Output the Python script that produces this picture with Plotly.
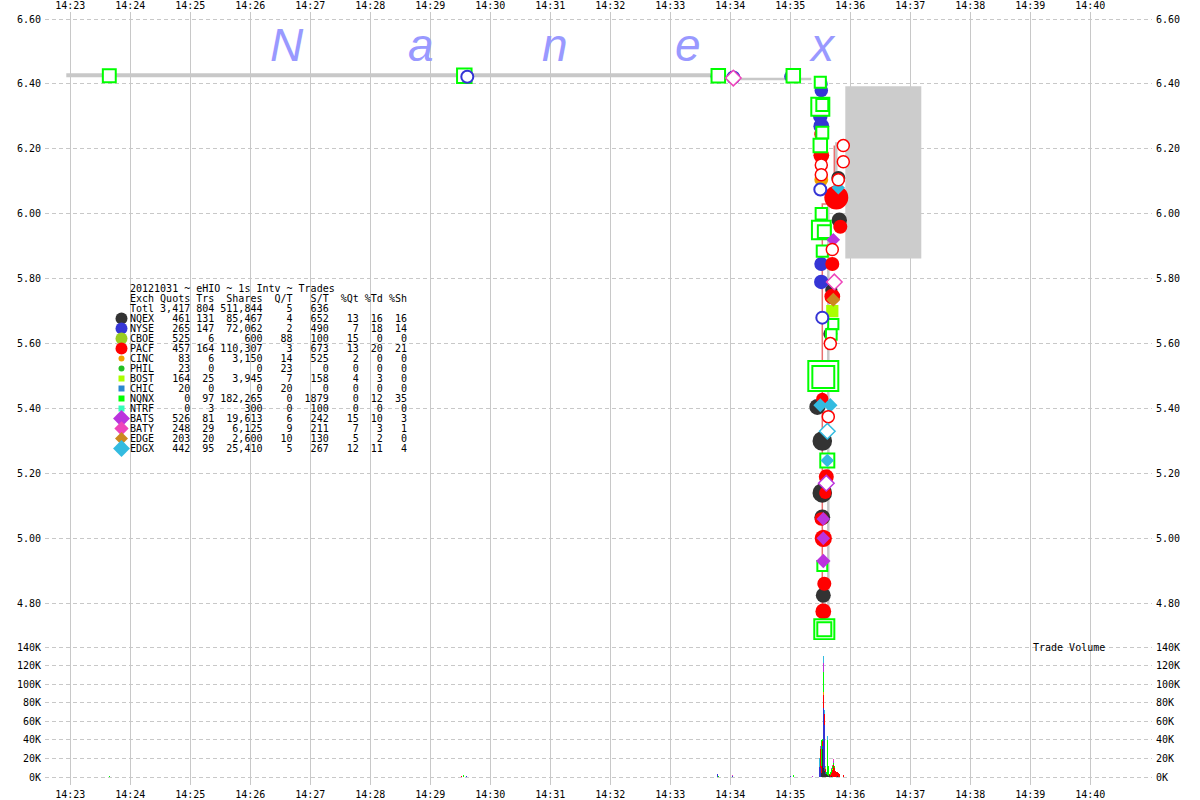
import math
import plotly.graph_objects as go

DAY = "2012-10-31 "

# ---------------- exchanges / table ----------------
exchanges = ["NQEX", "NYSE", "CBOE", "PACF", "CINC", "PHIL", "BOST", "CHIC",
             "NQNX", "NTRF", "BATS", "BATY", "EDGE", "EDGX"]
ex_colors = ["#333333", "#3535d5", "#99cc22", "#ff0000", "#f0a000", "#22c022",
             "#aaff00", "#2a88d0", "#00ff00", "#33ffbb", "#bb33dd", "#ee44bb",
             "#cc8820", "#33bbe0"]
ex_symbols = ["circle"] * 6 + ["square"] * 4 + ["diamond"] * 4
legend_sizes = [12, 12, 12, 12, 6, 6, 6, 6, 6, 6, 13, 11, 10, 13]

table_title = "20121031 ~ eHIO ~ 1s Intv ~ Trades"
tbl_quots = [461, 265, 525, 457, 83, 23, 164, 20, 0, 0, 526, 248, 203, 442]
tbl_trs = [131, 147, 6, 164, 6, 0, 25, 0, 97, 3, 81, 29, 20, 95]
tbl_shares = [85467, 72062, 600, 110307, 3150, 0, 3945, 0, 182265, 300, 19613, 6125, 2600, 25410]
tbl_qt = [4, 2, 88, 3, 14, 23, 7, 20, 0, 0, 6, 9, 10, 5]
tbl_st = [652, 490, 100, 673, 525, 0, 158, 0, 1879, 100, 242, 211, 130, 267]
tbl_pqt = [13, 7, 15, 13, 2, 0, 4, 0, 0, 0, 15, 7, 5, 12]
tbl_ptd = [16, 18, 0, 20, 0, 0, 3, 0, 12, 0, 10, 3, 2, 11]
tbl_psh = [16, 14, 0, 21, 0, 0, 0, 0, 35, 0, 3, 1, 0, 4]
tot_quots, tot_trs, tot_shares, tot_qt, tot_st = 3417, 804, 511844, 5, 636

# ---------------- axes ----------------
minute_ticks = ["14:%02d" % m for m in range(23, 41)]
price_ticks = [4.80, 5.00, 5.20, 5.40, 5.60, 5.80, 6.00, 6.20, 6.40, 6.60]
vol_ticks = [0, 20000, 40000, 60000, 80000, 100000, 120000, 140000]
vol_tick_text = ["0K", "20K", "40K", "60K", "80K", "100K", "120K", "140K"]

# ---------------- quote lines ----------------
gray1_time = ["14:22:56", "14:33:54"]
gray1_price = [6.427, 6.427]
gray2_time = ["14:33:55", "14:35:21", None, "14:35:46", "14:35:46", "14:35:38", "14:35:38"]
gray2_price = [6.415, 6.415, None, 6.22, 6.03, 6.03, 4.72]
red_time = ["14:35:44", "14:35:44", "14:35:32", "14:35:32"]
red_price = [6.21, 6.03, 6.03, 4.72]

# shaded box
box_time = ["14:35:55", "14:37:11"]
box_price = [5.862, 6.393]

# ---------------- trades (time, price, shares) ----------------
nqex_t = ["14:35:31", "14:35:48", "14:35:49", "14:35:41", "14:35:40", "14:35:27", "14:35:32", "14:35:32", "14:35:32", "14:35:33"]
nqex_p = [6.200, 6.110, 5.980, 5.765, 5.630, 5.405, 5.300, 5.140, 5.065, 4.825]
nqex_s = [1500, 3000, 4500, 1500, 3000, 5300, 11000, 11000, 5000, 4000]

nyse_t = ["14:33:47", "14:35:00", "14:35:31", "14:35:31", "14:35:30", "14:35:31", "14:35:31", "14:35:31"]
nyse_p = [6.423, 6.423, 6.400, 6.380, 6.300, 6.270, 5.845, 5.790]
nyse_s = [2500, 1500, 2000, 2500, 3500, 5000, 3000, 3500]

pacf_t = ["14:35:31", "14:35:31", "14:35:46", "14:35:50", "14:35:42", "14:35:42", "14:35:32", "14:35:36", "14:35:35", "14:35:31", "14:35:33", "14:35:34", "14:35:33"]
pacf_p = [6.245, 6.180, 6.050, 5.960, 5.845, 5.745, 5.430, 5.190, 5.140, 5.060, 5.000, 4.860, 4.775]
pacf_s = [3000, 5000, 21000, 3000, 3000, 5000, 1500, 4000, 1500, 2500, 7000, 3000, 5000]

cinc_t = ["14:35:31"]
cinc_p = [6.105]
cinc_s = [2800]

bost_t = ["14:35:42"]
bost_p = [5.700]
bost_s = [1500]

nqnx_t = ["14:23:39", "14:29:34", "14:33:48", "14:35:03", "14:35:30", "14:35:30", "14:35:32", "14:35:32", "14:35:30", "14:35:31", "14:35:31", "14:35:34", "14:35:32", "14:35:43", "14:35:41", "14:35:33", "14:35:33", "14:35:37", "14:35:32", "14:35:34", "14:35:34"]
nqnx_p = [6.425, 6.425, 6.425, 6.425, 6.405, 6.330, 6.335, 6.250, 6.210, 6.000, 5.950, 5.945, 5.885, 5.660, 5.628, 5.500, 5.497, 5.240, 4.915, 4.720, 4.720]
nqnx_s = [2000, 3500, 2500, 2500, 800, 8300, 1300, 1300, 2500, 900, 9500, 2000, 800, 400, 600, 40000, 16000, 3000, 300, 12000, 3000]

bats_t = ["14:35:43", "14:35:33", "14:35:33", "14:35:33"]
bats_p = [5.920, 5.060, 5.000, 4.930]
bats_s = [500, 500, 500, 800]

edge_t = ["14:35:43"]
edge_p = [5.735]
edge_s = [600]

edgx_t = ["14:35:48", "14:35:30", "14:35:40", "14:35:37"]
edgx_p = [6.080, 5.410, 5.410, 5.240]
edgx_s = [400, 600, 800, 500]

# ---------------- quotes (time, price) ----------------
pacf_q_t = ["14:35:31", "14:35:31", "14:35:53", "14:35:53", "14:35:48", "14:35:42", "14:35:40", "14:35:38"]
pacf_q_p = [6.150, 6.120, 6.210, 6.160, 6.105, 5.890, 5.600, 5.375]
nyse_q_t = ["14:29:37", "14:34:03", "14:35:30", "14:35:32"]
nyse_q_p = [6.422, 6.420, 6.075, 5.680]
baty_q_t = ["14:34:03", "14:35:44"]
baty_q_p = [6.418, 5.790]
edgx_q_t = ["14:35:37"]
edgx_q_p = [5.330]
bats_q_t = ["14:35:36"]
bats_q_p = [5.170]

# ---------------- trade volume per second ----------------
vol_times = ["14:23:39", "14:29:31", "14:29:33", "14:29:36", "14:33:47", "14:33:48", "14:34:02",
             "14:35:00", "14:35:03", "14:35:22", "14:35:29", "14:35:30", "14:35:31", "14:35:32",
             "14:35:33", "14:35:34", "14:35:35", "14:35:36", "14:35:37", "14:35:38", "14:35:39",
             "14:35:40", "14:35:41", "14:35:42", "14:35:43", "14:35:44", "14:35:45", "14:35:46",
             "14:35:47", "14:35:48", "14:35:49", "14:35:53"]
vol_nqex = [0, 0, 0, 0, 0, 0, 0, 0, 0, 0, 0, 0, 4000, 30000, 10000, 6000, 3000, 3000, 2000, 1500, 2000, 0, 1000, 0, 0, 0, 0, 0, 1000, 0, 0, 0]
vol_nyse = [0, 0, 0, 1200, 3000, 0, 800, 700, 0, 0, 11000, 10000, 0, 4000, 64000, 50000, 2000, 0, 0, 0, 0, 0, 0, 0, 0, 0, 0, 0, 0, 0, 0, 0]
vol_cboe = [0, 0, 0, 0, 0, 0, 0, 0, 0, 0, 0, 0, 0, 0, 0, 0, 0, 0, 0, 0, 0, 0, 600, 0, 0, 0, 0, 0, 0, 0, 0, 0]
vol_pacf = [0, 600, 0, 0, 0, 0, 0, 0, 0, 0, 0, 20000, 8000, 5000, 14500, 12000, 4000, 0, 0, 0, 1500, 2000, 3000, 8000, 13000, 10000, 6500, 5000, 4000, 4500, 3000, 2500]
vol_cinc = [0, 0, 0, 0, 0, 0, 0, 0, 0, 0, 0, 0, 0, 0, 3150, 0, 0, 0, 0, 0, 0, 0, 0, 0, 0, 0, 0, 0, 0, 0, 0, 0]
vol_phil = [0] * 32
vol_bost = [0, 0, 0, 0, 0, 0, 0, 0, 0, 0, 0, 0, 0, 0, 0, 0, 1500, 0, 0, 0, 0, 0, 0, 1000, 0, 0, 0, 0, 0, 0, 0, 0]
vol_chic = [0] * 32
vol_nqnx = [1000, 0, 2200, 0, 0, 1200, 0, 0, 2000, 0, 0, 0, 28000, 2000, 22000, 0, 0, 2000, 38000, 10000, 0, 3000, 4000, 3000, 2000, 1500, 0, 0, 0, 0, 0, 0]
vol_ntrf = [0, 0, 0, 0, 0, 0, 0, 0, 0, 0, 0, 0, 0, 0, 0, 0, 0, 0, 0, 0, 300, 0, 0, 0, 0, 0, 0, 0, 0, 0, 0, 0]
vol_bats = [0, 0, 0, 0, 0, 0, 0, 0, 0, 700, 0, 3500, 0, 0, 9000, 0, 0, 0, 0, 0, 0, 0, 700, 0, 2000, 0, 0, 0, 0, 0, 0, 0]
vol_baty = [0, 0, 0, 0, 0, 0, 900, 0, 0, 0, 0, 0, 0, 0, 0, 0, 0, 0, 0, 0, 0, 0, 0, 500, 2500, 0, 0, 0, 0, 0, 0, 0]
vol_edge = [0, 0, 0, 0, 0, 0, 0, 0, 0, 0, 0, 0, 0, 0, 0, 0, 0, 0, 0, 0, 0, 0, 0, 0, 0, 800, 0, 0, 0, 0, 0, 0]
vol_edgx = [0, 0, 0, 0, 0, 0, 0, 0, 0, 0, 10000, 0, 0, 0, 8000, 4000, 1500, 0, 4000, 0, 0, 0, 0, 0, 0, 0, 0, 0, 0, 0, 0, 0]

# ======================================================================
def d(ts):
    return [None if t is None else DAY + t for t in ts]


def msize(shares):
    return [8 + 0.11 * math.sqrt(s) for s in shares]


color = dict(zip(exchanges, ex_colors))
symbol = dict(zip(exchanges, ex_symbols))

fig = go.Figure()

# shaded box
bx = d([box_time[0], box_time[1], box_time[1], box_time[0], box_time[0]])
by = [box_price[0], box_price[0], box_price[1], box_price[1], box_price[0]]
fig.add_trace(go.Scatter(x=bx, y=by, fill="toself", fillcolor="#cccccc", mode="lines",
                         line=dict(width=0), hoverinfo="skip", xaxis="x", yaxis="y"))

# quote lines
fig.add_trace(go.Scatter(x=d(gray1_time), y=gray1_price, mode="lines",
                         line=dict(color="#c8c8c8", width=4), xaxis="x", yaxis="y"))
fig.add_trace(go.Scatter(x=d(gray2_time), y=gray2_price, mode="lines",
                         line=dict(color="#c8c8c8", width=2.5), xaxis="x", yaxis="y"))
fig.add_trace(go.Scatter(x=d(red_time), y=red_price, mode="lines",
                         line=dict(color="#e87070", width=1.5), xaxis="x", yaxis="y"))

# trades
trade_sets = [("NQEX", nqex_t, nqex_p, nqex_s), ("NYSE", nyse_t, nyse_p, nyse_s),
              ("PACF", pacf_t, pacf_p, pacf_s), ("CINC", cinc_t, cinc_p, cinc_s),
              ("BOST", bost_t, bost_p, bost_s), ("NQNX", nqnx_t, nqnx_p, nqnx_s),
              ("BATS", bats_t, bats_p, bats_s), ("EDGE", edge_t, edge_p, edge_s),
              ("EDGX", edgx_t, edgx_p, edgx_s)]
for ex, ts, ps, ss in trade_sets:
    if ex == "NQNX":
        mk = dict(symbol="square", size=msize(ss), color="white", opacity=1,
                  line=dict(color=color[ex], width=2))
    else:
        mk = dict(symbol=symbol[ex], size=msize(ss), color=color[ex], opacity=1,
                  line=dict(width=0))
    fig.add_trace(go.Scatter(x=d(ts), y=ps, mode="markers", marker=mk, name=ex,
                             xaxis="x", yaxis="y"))

# quotes
quote_sets = [("PACF", pacf_q_t, pacf_q_p), ("NYSE", nyse_q_t, nyse_q_p),
              ("BATY", baty_q_t, baty_q_p), ("EDGX", edgx_q_t, edgx_q_p),
              ("BATS", bats_q_t, bats_q_p)]
for ex, ts, ps in quote_sets:
    lw = 2 if ex == "NYSE" else 1.5
    fig.add_trace(go.Scatter(x=d(ts), y=ps, mode="markers", name=ex + " quote",
                             marker=dict(symbol=symbol[ex], size=12, color="white", opacity=1,
                                         line=dict(color=color[ex], width=lw)),
                             xaxis="x", yaxis="y"))

# volume bars (stacked in exchange order)
vol_series = [vol_nqex, vol_nyse, vol_cboe, vol_pacf, vol_cinc, vol_phil, vol_bost,
              vol_chic, vol_nqnx, vol_ntrf, vol_bats, vol_baty, vol_edge, vol_edgx]
for ex, vals in zip(exchanges, vol_series):
    fig.add_trace(go.Bar(x=d(vol_times), y=vals, width=1000, name=ex,
                         marker=dict(color=color[ex], line=dict(width=0)),
                         xaxis="x2", yaxis="y2"))

# right-side axis companions
fig.add_trace(go.Scatter(x=[None], y=[None], mode="markers", xaxis="x", yaxis="y3",
                         hoverinfo="skip"))
fig.add_trace(go.Scatter(x=[None], y=[None], mode="markers", xaxis="x2", yaxis="y4",
                         hoverinfo="skip"))

# table legend markers (rows on an overlay axis: row 0 = title)
rows = list(range(3, 3 + len(exchanges)))
fig.add_trace(go.Scatter(x=[121.5] * len(exchanges), y=rows, mode="markers",
                         marker=dict(symbol=ex_symbols, color=ex_colors, size=legend_sizes,
                                     opacity=1, line=dict(width=0)),
                         xaxis="x3", yaxis="y5", hoverinfo="skip"))

NB = "\u00a0"


def fmt_row(name, q, t, s, qt, st, a, b, c):
    return (f"{name:<4} {q:>5} {t:>3} {s:>7} {qt:>4} {st:>5} {a:>4} {b:>3} {c:>3}").replace(" ", NB)


table_lines = [table_title.replace(" ", NB),
               fmt_row("Exch", "Quots", "Trs", "Shares", "Q/T", "S/T", "%Qt", "%Td", "%Sh"),
               fmt_row("Totl", f"{tot_quots:,}", tot_trs, f"{tot_shares:,}", tot_qt, tot_st, "", "", "").rstrip(NB)]
for i, ex in enumerate(exchanges):
    table_lines.append(fmt_row(ex, f"{tbl_quots[i]:,}", tbl_trs[i], f"{tbl_shares[i]:,}",
                               tbl_qt[i], tbl_st[i], tbl_pqt[i], tbl_ptd[i], tbl_psh[i]))

tfont = dict(family="DejaVu Sans Mono", size=10, color="black")

annotations = []
for r, line in enumerate(table_lines):
    annotations.append(dict(x=128.5, y=r, xref="x3", yref="y5", text=line, showarrow=False,
                            xanchor="left", yanchor="middle", borderpad=0, font=tfont))

# left-hand tick labels, placed on each axis' own scale just outside the plot edge
ptext = ["%.2f" % v for v in price_ticks]
for v, t in zip(price_ticks, ptext):
    annotations.append(dict(x=0, y=v, xref="paper", yref="y", text=t, showarrow=False,
                            xanchor="right", yanchor="middle", xshift=-4, borderpad=0,
                            borderwidth=0, font=tfont))
for v, t in zip(vol_ticks, vol_tick_text):
    annotations.append(dict(x=0, y=v, xref="paper", yref="y2", text=t, showarrow=False,
                            xanchor="right", yanchor="middle", xshift=-4, borderpad=0,
                            borderwidth=0, font=tfont))

# watermark
for i, ch in enumerate(["N", "a", "n", "e", "x"]):
    annotations.append(dict(x=(287 + 133.75 * i - 45) / 1107, y=(785 - 45) / 773,
                            xref="paper", yref="paper", text=ch, showarrow=False,
                            xanchor="center", yanchor="middle",
                            font=dict(family="Liberation Sans", size=46, color="#9999ff",
                                      style="italic")))

annotations.append(dict(x=(1031 - 45) / 1107, y=(785 - 647) / 773, xref="paper", yref="paper",
                        text="Trade" + NB + "Volume", showarrow=False, xanchor="left",
                        yanchor="middle", font=tfont))

dv = (785 - 640) / 773
xr = [DAY + "14:22:34.7", DAY + "14:41:01.7"]
tickv = [DAY + m for m in minute_ticks]
grid = "#c8c8c8"
price_range = [4.6869, 6.6216]
vol_range = [-8600, 147900]

common_y = dict(tickmode="array", zeroline=False, showline=False, ticks="", ticklen=0,
                tickfont=tfont, automargin=False)

fig.update_layout(
    width=1200, height=800, margin=dict(l=45, r=48, t=12, b=15, autoexpand=False),
    paper_bgcolor="white", plot_bgcolor="white", showlegend=False, hovermode=False,
    barmode="stack", bargap=0, font=tfont, annotations=annotations,
    xaxis=dict(type="date", range=xr, domain=[0, 1], anchor="y", side="top",
               tickmode="array", tickvals=tickv, tickformat="%H:%M", showgrid=True,
               gridcolor=grid, gridwidth=1, zeroline=False, showline=False, ticks="",
               ticklen=0, tickfont=tfont, automargin=False),
    xaxis2=dict(type="date", range=xr, matches="x", domain=[0, 1], anchor="y2", side="bottom",
                tickmode="array", tickvals=tickv, tickformat="%H:%M", showgrid=True,
                gridcolor=grid, gridwidth=1, zeroline=False, showline=False, ticks="",
                ticklen=0, tickfont=tfont, automargin=False, ticklabelstandoff=2),
    yaxis=dict(domain=[dv, 1], range=price_range, anchor="x", tickvals=price_ticks,
               showticklabels=False, showgrid=True, gridcolor=grid, griddash="4px,3px",
               gridwidth=1, **common_y),
    yaxis3=dict(domain=[dv, 1], range=price_range, overlaying="y", side="right", anchor="x",
                tickvals=price_ticks, ticktext=ptext, showgrid=False, ticklabelstandoff=3,
                **common_y),
    yaxis2=dict(domain=[0, dv], range=vol_range, anchor="x2", tickvals=vol_ticks,
                showticklabels=False, showgrid=True, gridcolor=grid, griddash="4px,3px",
                gridwidth=1, **common_y),
    yaxis4=dict(domain=[0, dv], range=vol_range, overlaying="y2", side="right", anchor="x2",
                tickvals=vol_ticks, ticktext=vol_tick_text, showgrid=False, ticklabelstandoff=3,
                **common_y),
    xaxis3=dict(overlaying="x", range=[45, 1152], visible=False, anchor="y5", automargin=False),
    yaxis5=dict(overlaying="y", range=[(640 - 288.5) / 10, (12 - 288.5) / 10],
                visible=False, anchor="x3", automargin=False),
)

fig.write_html("out.html", config={"displayModeBar": False, "staticPlot": True},
               post_script="document.body.style.margin='0';document.body.style.padding='0';")
